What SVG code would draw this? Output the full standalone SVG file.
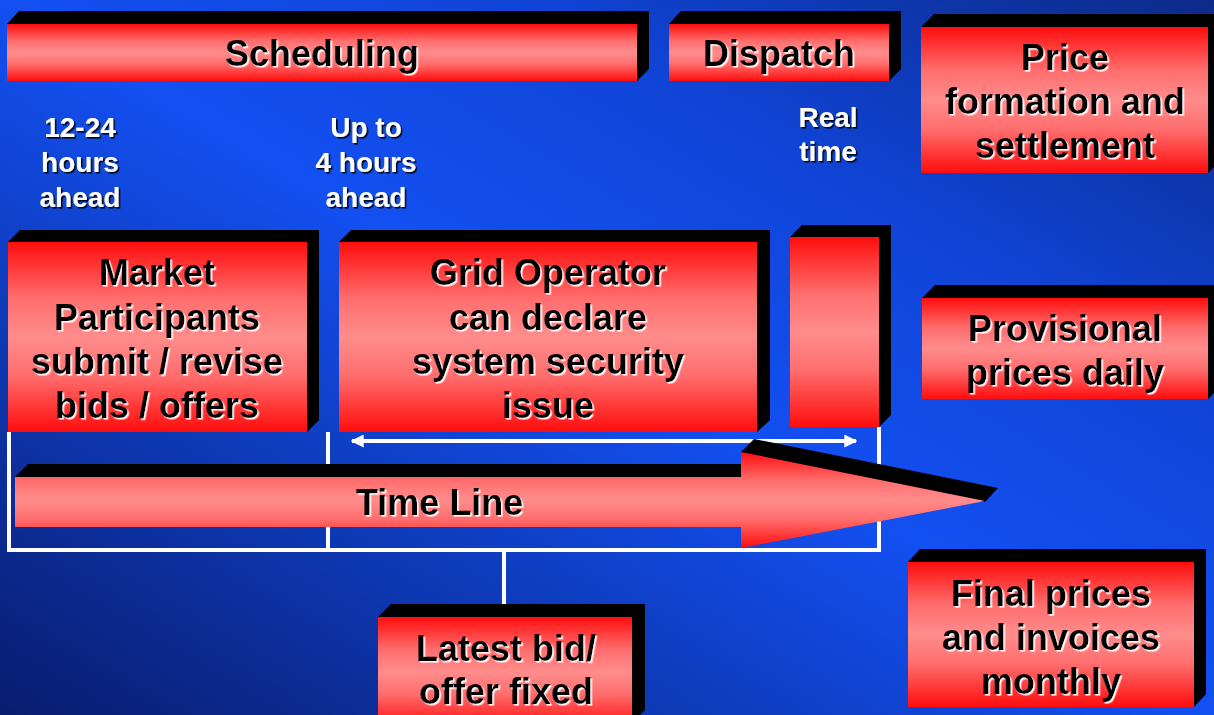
<svg xmlns="http://www.w3.org/2000/svg" width="1214" height="715" viewBox="0 0 1214 715">
<defs>
<linearGradient id="bg" x1="0" y1="1" x2="1" y2="0">
<stop offset="0" stop-color="#091c6e"/>
<stop offset="0.28" stop-color="#0e3ab8"/>
<stop offset="0.5" stop-color="#1350f2"/>
<stop offset="0.72" stop-color="#1044d6"/>
<stop offset="1" stop-color="#0c2a88"/>
</linearGradient>
<linearGradient id="red" x1="0" y1="0" x2="0" y2="1">
<stop offset="0" stop-color="#ff0d0d"/>
<stop offset="0.3" stop-color="#ff6e6e"/>
<stop offset="0.5" stop-color="#ff8c8c"/>
<stop offset="0.7" stop-color="#ff6e6e"/>
<stop offset="1" stop-color="#ff0d0d"/>
</linearGradient>
<filter id="wsh" x="-10%" y="-10%" width="120%" height="130%">
<feDropShadow dx="1.6" dy="1.6" stdDeviation="0" flood-color="#ffffff" flood-opacity="0.95"/>
</filter>
<filter id="ksh" x="-10%" y="-10%" width="120%" height="130%">
<feDropShadow dx="1.6" dy="1.6" stdDeviation="0" flood-color="#000000" flood-opacity="0.9"/>
</filter>
<marker id="ah" viewBox="0 0 10 10" refX="9" refY="5" markerWidth="13" markerHeight="13" markerUnits="userSpaceOnUse" orient="auto-start-reverse">
<path d="M0,0 L10,5 L0,10 z" fill="#ffffff"/>
</marker>
<style>
.ext{fill:#000000}
.face{fill:url(#red)}
.bt{font-family:"Liberation Sans",Arial,Helvetica,sans-serif;font-weight:bold;font-size:36px;fill:#000000;text-anchor:middle;filter:url(#wsh)}
.wt{font-family:"Liberation Sans",Arial,Helvetica,sans-serif;font-weight:bold;font-size:28px;fill:#ffffff;text-anchor:middle;filter:url(#ksh)}
.wl{fill:none;stroke:#ffffff;stroke-width:4}
</style>
</defs>
<rect x="0" y="0" width="1214" height="715" fill="url(#bg)"/>

<g id="connectors">
<polyline class="wl" points="9,432 9,550 879,550 879,427"/>
<line class="wl" x1="328" y1="432" x2="328" y2="550"/>
<line class="wl" x1="504" y1="550" x2="504" y2="617"/>
<line class="wl" x1="352" y1="441" x2="856" y2="441" stroke-width="3" marker-start="url(#ah)" marker-end="url(#ah)"/>
</g>

<g id="timeline">
<polygon class="ext" points="15,477 28,464 741,464 741,452 754,439 998,488 985,502 741,477"/>
<polygon points="15,477 741,477 741,452 985,501 741,548 741,527 15,527" fill="url(#red)"/>
<text class="bt" x="356" y="515" style="text-anchor:start">Time Line</text>
</g>

<g id="scheduling">
<polygon class="ext" points="7,24 19,11 649,11 649,69 637,81 637,24"/>
<rect class="face" x="7" y="24" width="630" height="57"/>
<text class="bt" x="322" y="66">Scheduling</text>
</g>

<g id="dispatch">
<polygon class="ext" points="669,24 681,11 901,11 901,69 889,81 889,24"/>
<rect class="face" x="669" y="24" width="220" height="57"/>
<text class="bt" x="779" y="66">Dispatch</text>
</g>

<g id="price">
<polygon class="ext" points="921,27 934,14 1221,14 1221,160 1208,173 1208,27"/>
<rect class="face" x="921" y="27" width="287" height="146"/>
<text class="bt" x="1065" y="70">Price</text>
<text class="bt" x="1065" y="114">formation and</text>
<text class="bt" x="1065" y="158">settlement</text>
</g>

<g id="label-12-24">
<text class="wt" x="80" y="137">12-24</text>
<text class="wt" x="80" y="172">hours</text>
<text class="wt" x="80" y="207">ahead</text>
</g>

<g id="label-up-to-4">
<text class="wt" x="366" y="137">Up to</text>
<text class="wt" x="366" y="172">4 hours</text>
<text class="wt" x="366" y="207">ahead</text>
</g>

<g id="label-real-time">
<text class="wt" x="828" y="127">Real</text>
<text class="wt" x="828" y="161">time</text>
</g>

<g id="market">
<polygon class="ext" points="8,242 20,230 319,230 319,420 307,432 307,242"/>
<rect class="face" x="8" y="242" width="299" height="190"/>
<text class="bt" x="157" y="285">Market</text>
<text class="bt" x="157" y="330">Participants</text>
<text class="bt" x="157" y="374">submit / revise</text>
<text class="bt" x="157" y="418">bids / offers</text>
</g>

<g id="grid">
<polygon class="ext" points="339,242 351,230 770,230 770,420 757,432 757,242"/>
<rect class="face" x="339" y="242" width="418" height="190"/>
<text class="bt" x="548" y="285">Grid Operator</text>
<text class="bt" x="548" y="330">can declare</text>
<text class="bt" x="548" y="374">system security</text>
<text class="bt" x="548" y="418">issue</text>
</g>

<g id="realtime-box">
<polygon class="ext" points="790,237 802,225 891,225 891,415 879,427 879,237"/>
<rect class="face" x="790" y="237" width="89" height="190"/>
</g>

<g id="provisional">
<polygon class="ext" points="922,298 935,285 1221,285 1221,386 1208,399 1208,298"/>
<rect class="face" x="922" y="298" width="286" height="101"/>
<text class="bt" x="1065" y="341">Provisional</text>
<text class="bt" x="1065" y="385">prices daily</text>
</g>

<g id="final">
<polygon class="ext" points="908,562 920,549 1206,549 1206,694 1194,707 1194,562"/>
<rect class="face" x="908" y="562" width="286" height="145"/>
<text class="bt" x="1051" y="606">Final prices</text>
<text class="bt" x="1051" y="650">and invoices</text>
<text class="bt" x="1051" y="694">monthly</text>
</g>

<g id="latest">
<polygon class="ext" points="378,617 391,604 645,604 645,710 632,723 632,617"/>
<rect class="face" x="378" y="617" width="254" height="110"/>
<text class="bt" x="506" y="661">Latest bid/</text>
<text class="bt" x="506" y="704">offer fixed</text>
</g>
</svg>
